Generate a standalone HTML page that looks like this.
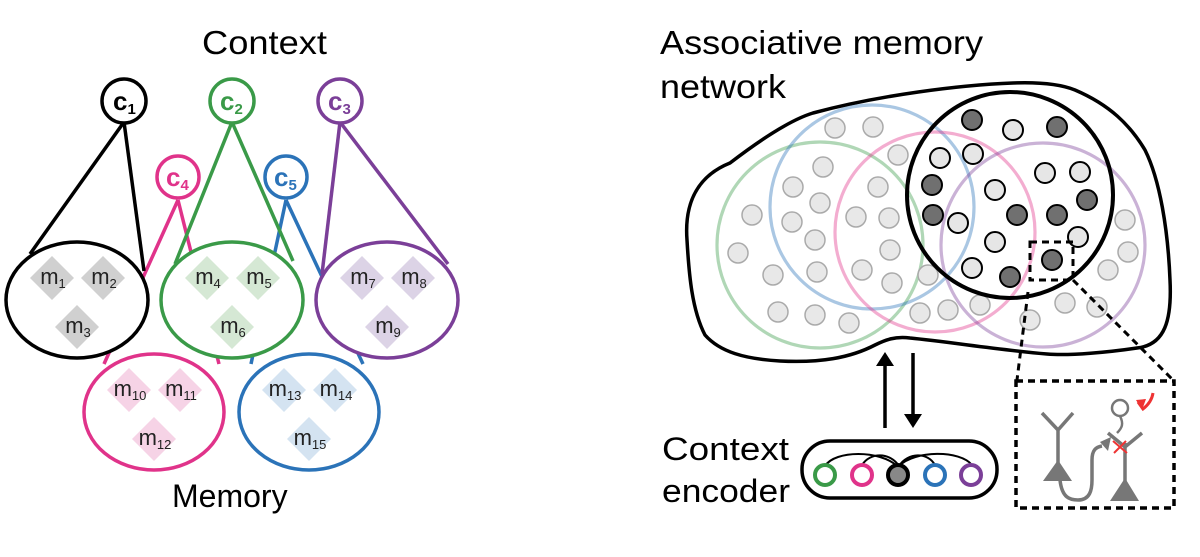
<!DOCTYPE html>
<html><head><meta charset="utf-8"><style>
html,body{margin:0;padding:0;background:#fff;}
svg{display:block;font-family:"Liberation Sans",Arial,sans-serif;}
</style></head><body>
<svg width="1200" height="557" viewBox="0 0 1200 557" xmlns="http://www.w3.org/2000/svg">
<rect width="1200" height="557" fill="#fff"/>
<!-- LEFT PANEL -->
<text x="202" y="54" font-size="33" textLength="125" lengthAdjust="spacingAndGlyphs">Context</text>
<text x="172" y="507" font-size="32">Memory</text>
<g fill="none" stroke-width="3.5">
<line x1="178" y1="200" x2="104" y2="364" stroke="#e0338a"/>
<line x1="178" y1="200" x2="219" y2="364" stroke="#e0338a"/>
<line x1="286" y1="200" x2="251" y2="364" stroke="#2b73b8"/>
<line x1="286" y1="200" x2="363" y2="364" stroke="#2b73b8"/>
</g>
<ellipse cx="154" cy="412" rx="70" ry="58" fill="#fff" stroke="#e0338a" stroke-width="3.5"/>
<ellipse cx="309" cy="412" rx="70" ry="58" fill="#fff" stroke="#2b73b8" stroke-width="3.5"/>
<ellipse cx="77" cy="300" rx="71" ry="58" fill="#fff" stroke="#000" stroke-width="3.5"/>
<ellipse cx="232" cy="300" rx="71" ry="58" fill="#fff" stroke="#3a9a48" stroke-width="3.5"/>
<ellipse cx="387" cy="300" rx="71" ry="58" fill="#fff" stroke="#7b3f98" stroke-width="3.5"/>
<g fill="none" stroke-width="3.5">
<line x1="124" y1="122" x2="30" y2="254" stroke="#000"/>
<line x1="124" y1="122" x2="144" y2="271" stroke="#000"/>
<line x1="232" y1="122" x2="175" y2="264" stroke="#3a9a48"/>
<line x1="232" y1="122" x2="293" y2="261" stroke="#3a9a48"/>
<line x1="340" y1="122" x2="322" y2="274" stroke="#7b3f98"/>
<line x1="340" y1="122" x2="448" y2="264" stroke="#7b3f98"/>
</g>
<circle cx="124" cy="101" r="22" fill="#fff" stroke="#000" stroke-width="3.5"/>
<circle cx="232" cy="101" r="22" fill="#fff" stroke="#3a9a48" stroke-width="3.5"/>
<circle cx="340" cy="101" r="22" fill="#fff" stroke="#7b3f98" stroke-width="3.5"/>
<circle cx="178" cy="177" r="21" fill="#fff" stroke="#e0338a" stroke-width="3.5"/>
<circle cx="286" cy="177" r="21" fill="#fff" stroke="#2b73b8" stroke-width="3.5"/>
<g font-weight="bold" font-size="26">
<text x="113" y="110" fill="#000">c<tspan font-size="15" dy="4">1</tspan></text>
<text x="220" y="110" fill="#3a9a48">c<tspan font-size="15" dy="4">2</tspan></text>
<text x="328" y="110" fill="#7b3f98">c<tspan font-size="15" dy="4">3</tspan></text>
<text x="166" y="186" fill="#e0338a">c<tspan font-size="15" dy="4">4</tspan></text>
<text x="274" y="186" fill="#2b73b8">c<tspan font-size="15" dy="4">5</tspan></text>
</g>
<g>
<g fill="#d0d0d0"><path d="M52 256l22 22-22 22-22-22z"/><path d="M103 256l22 22-22 22-22-22z"/><path d="M77 305l22 22-22 22-22-22z"/></g>
<g fill="#d5e8d4"><path d="M207 256l22 22-22 22-22-22z"/><path d="M258 256l22 22-22 22-22-22z"/><path d="M232 305l22 22-22 22-22-22z"/></g>
<g fill="#dcd3e6"><path d="M362 256l22 22-22 22-22-22z"/><path d="M413 256l22 22-22 22-22-22z"/><path d="M387 305l22 22-22 22-22-22z"/></g>
<g fill="#f6d3e6"><path d="M129 368l22 22-22 22-22-22z"/><path d="M180 368l22 22-22 22-22-22z"/><path d="M154 417l22 22-22 22-22-22z"/></g>
<g fill="#d4e3f1"><path d="M284 368l22 22-22 22-22-22z"/><path d="M335 368l22 22-22 22-22-22z"/><path d="M309 417l22 22-22 22-22-22z"/></g>
</g>
<g font-size="22" fill="#222" text-anchor="middle">
<text x="53" y="284">m<tspan font-size="13" dy="4">1</tspan></text>
<text x="104" y="284">m<tspan font-size="13" dy="4">2</tspan></text>
<text x="78" y="333">m<tspan font-size="13" dy="4">3</tspan></text>
<text x="208" y="284">m<tspan font-size="13" dy="4">4</tspan></text>
<text x="259" y="284">m<tspan font-size="13" dy="4">5</tspan></text>
<text x="233" y="333">m<tspan font-size="13" dy="4">6</tspan></text>
<text x="363" y="284">m<tspan font-size="13" dy="4">7</tspan></text>
<text x="414" y="284">m<tspan font-size="13" dy="4">8</tspan></text>
<text x="388" y="333">m<tspan font-size="13" dy="4">9</tspan></text>
<text x="130" y="396">m<tspan font-size="13" dy="4">10</tspan></text>
<text x="181" y="396">m<tspan font-size="13" dy="4">11</tspan></text>
<text x="155" y="445">m<tspan font-size="13" dy="4">12</tspan></text>
<text x="285" y="396">m<tspan font-size="13" dy="4">13</tspan></text>
<text x="336" y="396">m<tspan font-size="13" dy="4">14</tspan></text>
<text x="310" y="445">m<tspan font-size="13" dy="4">15</tspan></text>
</g>

<!-- RIGHT PANEL -->
<text x="660" y="54" font-size="33" textLength="323" lengthAdjust="spacingAndGlyphs">Associative memory</text>
<text x="660" y="98" font-size="33" textLength="126" lengthAdjust="spacingAndGlyphs">network</text>
<text x="662" y="460" font-size="32" textLength="127" lengthAdjust="spacingAndGlyphs">Context</text>
<text x="662" y="502" font-size="32" textLength="128" lengthAdjust="spacingAndGlyphs">encoder</text>

<path d="M687 240 C684 200 700 175 730 163 C760 140 790 120 813 113 C880 95 960 85 1013 83 C1040 82 1060 84 1075 90 C1110 105 1130 125 1145 150 C1160 180 1168 230 1170 280 C1172 320 1165 345 1137 348 C1110 352 1070 356 1047 354 C1000 350 950 342 910 338 C895 336 885 340 875 345 C850 358 820 363 780 361 C745 359 720 352 705 335 C692 310 689 275 687 240 Z" fill="#fff" stroke="#000" stroke-width="3.5"/>
<g fill="none" stroke-width="3.2" stroke-opacity="0.4">
<circle cx="820" cy="245" r="103" stroke="#3a9a48"/>
<circle cx="872" cy="207" r="102" stroke="#2b73b8"/>
<circle cx="935" cy="232" r="100" stroke="#e0338a"/>
<circle cx="1043" cy="245" r="102" stroke="#7b3f98"/>
</g>
<g fill="#e8e8e8" stroke="#aaa" stroke-width="1.5">
<circle cx="835" cy="128" r="10"/><circle cx="873" cy="127" r="10"/><circle cx="898" cy="155" r="10"/><circle cx="823" cy="167" r="10"/><circle cx="793" cy="187" r="10"/><circle cx="878" cy="187" r="10"/><circle cx="820" cy="203" r="10"/><circle cx="752" cy="215" r="10"/><circle cx="792" cy="222" r="10"/><circle cx="856" cy="217" r="10"/><circle cx="889" cy="218" r="10"/><circle cx="815" cy="240" r="10"/><circle cx="890" cy="250" r="10"/><circle cx="738" cy="253" r="10"/><circle cx="773" cy="275" r="10"/><circle cx="817" cy="272" r="10"/><circle cx="862" cy="270" r="10"/><circle cx="892" cy="283" r="10"/><circle cx="928" cy="275" r="10"/><circle cx="778" cy="312" r="10"/><circle cx="815" cy="315" r="10"/><circle cx="849" cy="323" r="10"/><circle cx="920" cy="313" r="10"/><circle cx="948" cy="310" r="10"/><circle cx="980" cy="305" r="10"/><circle cx="1030" cy="320" r="10"/><circle cx="1065" cy="303" r="10"/><circle cx="1097" cy="307" r="10"/><circle cx="1108" cy="270" r="10"/><circle cx="1128" cy="252" r="10"/><circle cx="1125" cy="220" r="10"/>
</g>
<circle cx="1010" cy="195" r="103" fill="none" stroke="#000" stroke-width="4"/>
<g stroke="#000" stroke-width="2">
<g fill="#e6e6e6">
<circle cx="1013" cy="130" r="10"/><circle cx="940" cy="158" r="10"/><circle cx="973" cy="154" r="10"/><circle cx="1045" cy="173" r="10"/><circle cx="1080" cy="172" r="10"/><circle cx="995" cy="190" r="10"/><circle cx="958" cy="223" r="10"/><circle cx="995" cy="242" r="10"/><circle cx="1078" cy="237" r="10"/><circle cx="972" cy="268" r="10"/>
</g>
<g fill="#707070">
<circle cx="972" cy="120" r="10"/><circle cx="1057" cy="127" r="10"/><circle cx="932" cy="185" r="10"/><circle cx="1087" cy="200" r="10"/><circle cx="933" cy="215" r="10"/><circle cx="1017" cy="215" r="10"/><circle cx="1057" cy="215" r="10"/><circle cx="1052" cy="260" r="10"/><circle cx="1010" cy="277" r="10"/>
</g>
</g>
<g fill="none" stroke="#000" stroke-width="3" stroke-dasharray="7,5">
<rect x="1030" y="242" width="43" height="38"/>
<line x1="1028" y1="292" x2="1017" y2="380"/>
<line x1="1073" y1="280" x2="1173" y2="380"/>
<rect x="1016" y="381" width="158" height="127" stroke-width="3.5"/>
</g>
<g stroke="#777" stroke-width="3.5" fill="none">
<path d="M1042 413 L1058 430 L1073 413 M1058 430 L1058 465"/>
<path d="M1060 480 C1062 498 1070 500 1078 500 C1090 500 1092 490 1092 480 L1092 460 C1092 450 1096 447 1102 446"/>
<path d="M1125 443 L1125 485 M1108 433 L1125 447 L1142 433"/>
<path d="M1120 416 C1124 424 1122 428 1117 433" stroke-width="2.5"/>
<circle cx="1120" cy="408" r="8" stroke-width="2.5" fill="#fff"/>
</g>
<g fill="#777">
<path d="M1043 481 L1058 460 L1072 481 Z"/>
<path d="M1110 501 L1125 478 L1139 501 Z"/>
<path d="M1100 442 L1111 437 L1108 451 Z"/>
</g>
<g stroke="#e33" stroke-width="2" fill="none">
<path d="M1113 441 L1127 453 M1114 453 L1126 441"/>
<path d="M1138 402 L1143 409 C1148 405 1152 400 1153 393" stroke-width="3"/>
</g>
<path d="M1136 400 L1146 399 L1142 410 Z" fill="#e33"/>
<g stroke="#000" stroke-width="3.5">
<line x1="885" y1="428" x2="885" y2="362"/>
<line x1="913" y1="353" x2="913" y2="418"/>
</g>
<path d="M876 366 L885 352 L894 366 Z" fill="#000"/>
<path d="M904 414 L913 428 L922 414 Z" fill="#000"/>
<rect x="802" y="441" width="195" height="57" rx="28" fill="#fff" stroke="#000" stroke-width="3.5"/>
<g fill="none" stroke="#000" stroke-width="2">
<path d="M825 466 C835 450 880 450 897 466"/>
<path d="M862 465 C870 452 890 452 899 466"/>
<path d="M899 466 C908 452 928 452 935 465"/>
<path d="M899 466 C915 450 960 450 972 465"/>
</g>
<g stroke-width="4" fill="#fff">
<circle cx="825" cy="475" r="10" stroke="#3a9a48"/>
<circle cx="862" cy="475" r="10" stroke="#e0338a"/>
<circle cx="898" cy="475" r="10" stroke="#000" fill="#888"/>
<circle cx="935" cy="475" r="10" stroke="#2b73b8"/>
<circle cx="971" cy="475" r="10" stroke="#7b3f98"/>
</g>
</svg>
</body></html>
